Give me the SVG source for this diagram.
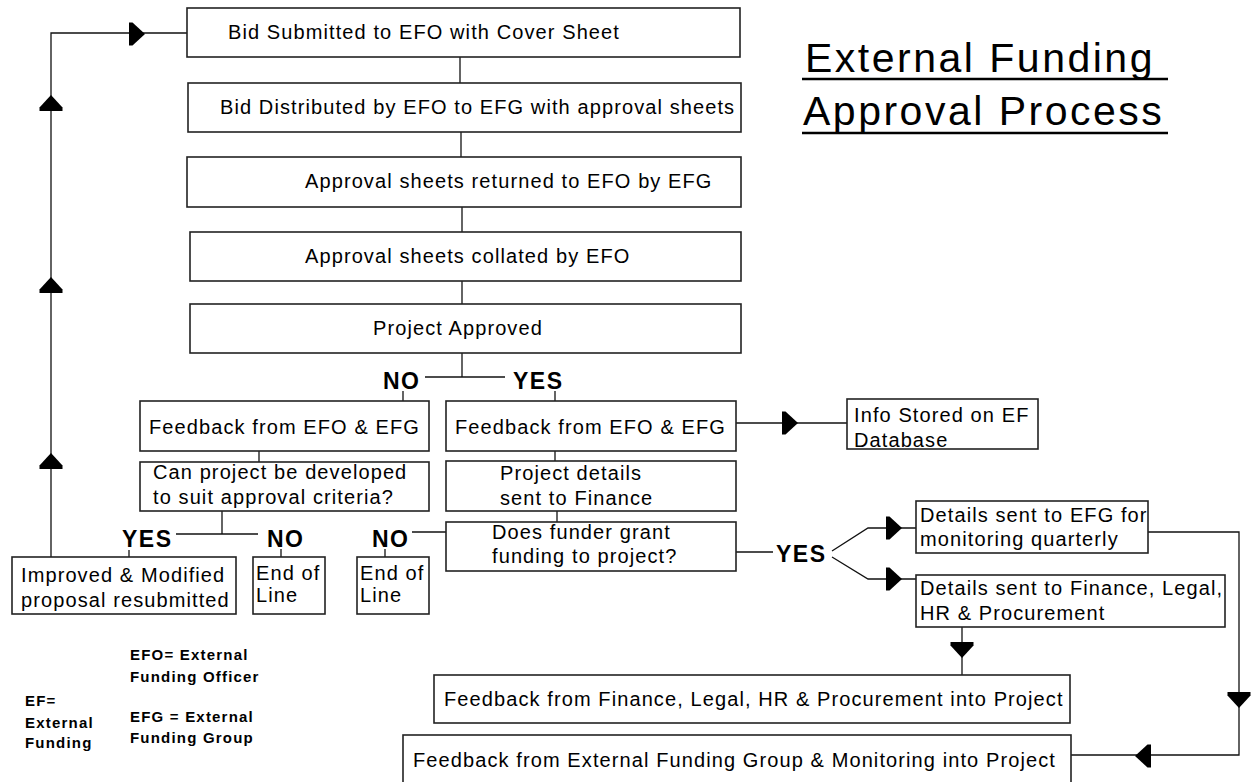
<svg xmlns="http://www.w3.org/2000/svg" xmlns:xlink="http://www.w3.org/1999/xlink" width="1255" height="782" viewBox="0 0 1255 782">
<style>
.box{fill:#fff;stroke:#222;stroke-width:1.6}
.t{font-family:"Liberation Sans",Arial,sans-serif;font-size:20px;letter-spacing:1.1px;fill:#000}
.yn{font-family:"Liberation Sans",Arial,sans-serif;font-size:23px;font-weight:bold;letter-spacing:1.5px;fill:#000}
.lg{font-family:"Liberation Sans",Arial,sans-serif;font-size:15px;font-weight:bold;letter-spacing:1.2px;fill:#000}
.title{font-family:"Liberation Sans",Arial,sans-serif;font-size:41px;letter-spacing:2.5px;fill:#000}
.c{fill:none;stroke:#111;stroke-width:1.3}
.ul{stroke:#000;stroke-width:2.5}
</style>
<defs>
<path id="ah" d="M-8,-11.5 L-4.5,-11.5 L8,0 L-4.5,11.5 L-8,11.5 Z" fill="#000"/>
</defs>
<rect width="1255" height="782" fill="#fff"/>

<g id="connectors">
<line class="c" x1="460" y1="57" x2="460" y2="83"/>
<line class="c" x1="461" y1="132" x2="461" y2="157"/>
<line class="c" x1="462" y1="207" x2="462" y2="232"/>
<line class="c" x1="462" y1="281" x2="462" y2="304"/>
<line class="c" x1="462" y1="353" x2="462" y2="377"/>
<line class="c" x1="425" y1="377" x2="505" y2="377"/>
<line class="c" x1="403" y1="391" x2="403" y2="401"/>
<line class="c" x1="555" y1="391" x2="555" y2="401"/>
<line class="c" x1="259" y1="451" x2="259" y2="462"/>
<polyline class="c" points="222,511 222,534"/>
<line class="c" x1="176" y1="534" x2="258" y2="534"/>
<line class="c" x1="129" y1="550" x2="129" y2="557"/>
<line class="c" x1="281" y1="549" x2="281" y2="557"/>
<line class="c" x1="555" y1="451" x2="555" y2="461"/>
<line class="c" x1="557" y1="511" x2="557" y2="522"/>
<line class="c" x1="446" y1="532" x2="412" y2="532"/>
<line class="c" x1="385" y1="549" x2="385" y2="557"/>
<line class="c" x1="736" y1="552" x2="773" y2="552"/>
<polyline class="c" points="832,551 868,528 916,528"/>
<polyline class="c" points="832,557 868,579 916,579"/>
<line class="c" x1="736" y1="423" x2="847" y2="423"/>
<polyline class="c" points="1148,532 1239,532 1239,755 1071,755"/>
<line class="c" x1="962" y1="627" x2="962" y2="675"/>
<polyline class="c" points="51,557 51,33 187,33"/>
<use xlink:href="#ah" transform="translate(137,34)"/>
<use xlink:href="#ah" transform="translate(51,103) rotate(-90)"/>
<use xlink:href="#ah" transform="translate(51,285) rotate(-90)"/>
<use xlink:href="#ah" transform="translate(51,461) rotate(-90)"/>
<use xlink:href="#ah" transform="translate(790,423)"/>
<use xlink:href="#ah" transform="translate(894,528)"/>
<use xlink:href="#ah" transform="translate(894,579)"/>
<use xlink:href="#ah" transform="translate(962,650) rotate(90)"/>
<use xlink:href="#ah" transform="translate(1239,700) rotate(90)"/>
<use xlink:href="#ah" transform="translate(1143,756) rotate(180)"/>
</g>

<g id="title">
<text class="title" x="805" y="72">External Funding</text>
<text class="title" x="803" y="125">Approval Process</text>
<line class="ul" x1="802" y1="79" x2="1168" y2="79"/>
<line class="ul" x1="802" y1="133" x2="1168" y2="133"/>
</g>

<g id="n1"><rect class="box" x="187" y="8" width="553" height="49"/><text class="t" x="228" y="39">Bid Submitted to EFO with Cover Sheet</text></g>
<g id="n2"><rect class="box" x="188" y="83" width="553" height="49"/><text class="t" x="220" y="114">Bid Distributed by EFO to EFG with approval sheets</text></g>
<g id="n3"><rect class="box" x="187" y="157" width="554" height="50"/><text class="t" x="305" y="188">Approval sheets returned to EFO by EFG</text></g>
<g id="n4"><rect class="box" x="190" y="232" width="551" height="49"/><text class="t" x="305" y="263">Approval sheets collated by EFO</text></g>
<g id="n5"><rect class="box" x="190" y="304" width="551" height="49"/><text class="t" x="373" y="335">Project Approved</text></g>

<g id="lbl-no1"><text class="yn" x="383" y="389">NO</text></g>
<g id="lbl-yes1"><text class="yn" x="513" y="389">YES</text></g>

<g id="n6"><rect class="box" x="140" y="401" width="289" height="50"/><text class="t" x="149" y="434">Feedback from EFO &amp; EFG</text></g>
<g id="n7"><rect class="box" x="446" y="401" width="290" height="50"/><text class="t" x="455" y="434">Feedback from EFO &amp; EFG</text></g>
<g id="n8"><rect class="box" x="847" y="399" width="191" height="50"/><text class="t" x="854" y="422">Info Stored on EF</text><text class="t" x="854" y="447">Database</text></g>

<g id="n9"><rect class="box" x="140" y="462" width="289" height="49"/><text class="t" x="153" y="479">Can project be developed</text><text class="t" x="153" y="504">to suit approval criteria?</text></g>
<g id="n10"><rect class="box" x="446" y="461" width="290" height="50"/><text class="t" x="500" y="480">Project details</text><text class="t" x="500" y="505">sent to Finance</text></g>
<g id="n11"><rect class="box" x="446" y="522" width="290" height="49"/><text class="t" x="492" y="539">Does funder grant</text><text class="t" x="492" y="563">funding to project?</text></g>

<g id="lbl-yes2"><text class="yn" x="122" y="547">YES</text></g>
<g id="lbl-no2"><text class="yn" x="267" y="547">NO</text></g>
<g id="lbl-no3"><text class="yn" x="372" y="547">NO</text></g>
<g id="lbl-yes3"><text class="yn" x="776" y="562">YES</text></g>

<g id="n12"><rect class="box" x="12" y="557" width="224" height="57"/><text class="t" x="21" y="582">Improved &amp; Modified</text><text class="t" x="21" y="607">proposal resubmitted</text></g>
<g id="n13"><rect class="box" x="253" y="557" width="72" height="57"/><text class="t" x="256" y="580">End of</text><text class="t" x="256" y="602">Line</text></g>
<g id="n14"><rect class="box" x="357" y="557" width="72" height="57"/><text class="t" x="360" y="580">End of</text><text class="t" x="360" y="602">Line</text></g>

<g id="n15"><rect class="box" x="916" y="501" width="232" height="52"/><text class="t" x="920" y="522">Details sent to EFG for</text><text class="t" x="920" y="546">monitoring quarterly</text></g>
<g id="n16"><rect class="box" x="916" y="575" width="309" height="52"/><text class="t" x="920" y="595">Details sent to  Finance, Legal,</text><text class="t" x="920" y="620">HR &amp; Procurement</text></g>

<g id="n17"><rect class="box" x="434" y="675" width="636" height="48"/><text class="t" x="444" y="706">Feedback from Finance, Legal, HR &amp; Procurement into Project</text></g>
<g id="n18"><rect class="box" x="403" y="735" width="668" height="60"/><text class="t" x="413" y="767">Feedback from External Funding Group &amp; Monitoring into Project</text></g>

<g id="legend">
<text class="lg" x="130" y="660">EFO= External</text>
<text class="lg" x="130" y="682">Funding Officer</text>
<text class="lg" x="130" y="722">EFG = External</text>
<text class="lg" x="130" y="743">Funding Group</text>
<text class="lg" x="25" y="706">EF=</text>
<text class="lg" x="25" y="728">External</text>
<text class="lg" x="25" y="748">Funding</text>
</g>
</svg>
